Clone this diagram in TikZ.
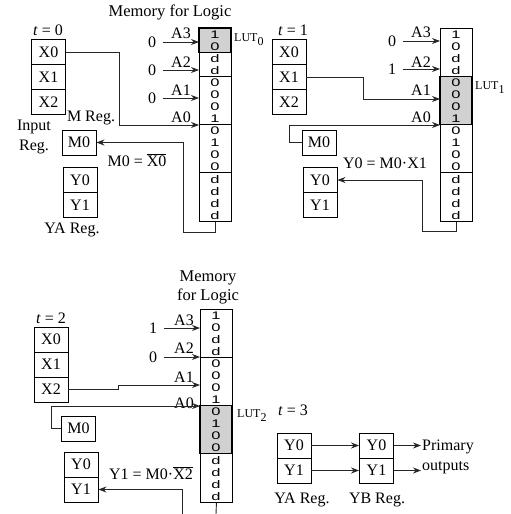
\documentclass[tikz,border=0pt]{standalone}
\usepackage{fontspec}
\setmainfont{Liberation Serif}
\newfontfamily\bitfont{Liberation Sans}
\usetikzlibrary{arrows.meta}
\tikzset{
  reg/.style={draw, line width=0.9pt, minimum width=34pt, minimum height=25pt, inner sep=0pt},
  wire/.style={line width=0.9pt, black!85},
  sig/.style={wire, -{Stealth[length=8pt,width=6pt]}},
  bit/.style={font=\bitfont\fontsize{11}{11}\selectfont, inner sep=0pt},
  lut/.style={font=\fontsize{12}{12}\selectfont, anchor=west, inner sep=0pt},
  title/.style={font=\fontsize{16.5}{19}\selectfont, align=center},
}
\newcommand{\memcol}[5]{%
  \fill[black!18] (#2,{#3+12.06*#4}) rectangle ({#2+32},{#3+12.06*(#4+#5)});
  \node[draw, line width=0.9pt, anchor=north west, minimum width=32pt, minimum height=193pt, inner sep=0pt] (#1) at (#2,#3) {};
  \foreach \g in {4,8,12}
    \draw[line width=1.2pt] (#2,{#3+12.06*\g}) -- ++(32,0);
  \draw[line width=1.2pt] (#2,{#3+12.06*#4}) rectangle ({#2+32},{#3+12.06*(#4+#5)});
  \foreach \b [count=\i from 0] in {1,0,d,d,0,0,0,1,0,1,0,0,d,d,d,d}
    \node[bit] at ({#2+16},{#3+12.06*\i+6.4}) {\scalebox{1.5}[1]{\b}};
}
\begin{document}
\begin{tikzpicture}[x=1pt, y=-1pt, font=\fontsize{16}{18}\selectfont]
\useasboundingbox (0,0) rectangle (511,514);

\node[title] (memt0) at (170,12) {Memory for Logic};
\node (t0) at (48,30) {\textit{t} = 0};
\node[reg] (x00) at (48.5,52) {X0};
\node[reg] (x01) at (48.5,77) {X1};
\node[reg] (x02) at (48.5,102) {X2};
\node[align=center, font=\fontsize{16}{20}\selectfont] (inreg0) at (34,137) {Input\\Reg.};
\node (mreg0) at (91,118) {M Reg.};
\node[reg] (m00) at (79,142.5) {M0};
\node (eq0) at (137,160) {M0 = $\overline{\mbox{X0}}$};
\node[reg] (ya00) at (80,180) {Y0};
\node[reg] (ya01) at (80,205) {Y1};
\node (yareg0) at (72,230) {YA Reg.};
\memcol{m0}{199}{28}{0}{2}
\node[lut] (lut0) at (234,40) {LUT\raisebox{-4pt}{0}};
\node (v03) at (152,42) {0};
\node (v02) at (152,70) {0};
\node (v01) at (152,98) {0};
\node (a03) at (181,33) {A3};
\node (a02) at (181,62) {A2};
\node (a01) at (181,90) {A1};
\node (a00) at (181,117) {A0};
\draw[sig, shorten <=3pt] (v03) -- (v03 -| m0.west);
\draw[sig, shorten <=3pt] (v02) -- (v02 -| m0.west);
\draw[sig, shorten <=3pt] (v01) -- (v01 -| m0.west);
\coordinate (b0) at (119,125);
\draw[sig] (x00.east) -| (b0) -- (b0 -| m0.west);
\coordinate (r0) at (183,232);
\draw[sig] (m0.south) |- (r0) |- (m00.east);

\node (t1) at (293,30) {\textit{t} = 1};
\node[reg] (x10) at (289,52) {X0};
\node[reg] (x11) at (289,77) {X1};
\node[reg] (x12) at (289,102) {X2};
\memcol{m1}{440}{28}{4}{4}
\node[lut] (lut1) at (475,88) {LUT\raisebox{-4pt}{1}};
\node (v13) at (392,41) {0};
\node (v12) at (392,69) {1};
\node (a13) at (421,32) {A3};
\node (a12) at (421,62) {A2};
\node (a11) at (421,90) {A1};
\node (a10) at (421,117) {A0};
\draw[sig, shorten <=3pt] (v13) -- (v13 -| m1.west);
\draw[sig, shorten <=3pt] (v12) -- (v12 -| m1.west);
\coordinate (b1) at (363,99);
\draw[sig] (x11.east) -| (b1) -- (b1 -| m1.west);
\node[reg] (m10) at (319,142.5) {M0};
\coordinate (c1) at (289,125);
\draw[sig] (m10.west) -| (c1) -- (c1 -| m1.west);
\node (eq1) at (385,163) {Y0 = M0·X1};
\node[reg] (ya10) at (320,180) {Y0};
\node[reg] (ya11) at (320,205) {Y1};
\coordinate (r1) at (422,231);
\draw[sig] (m1.south) |- (r1) |- (ya10.east);

\node[title] (memt2) at (208,287.5) {Memory\\for Logic};
\node (t2) at (51,318) {\textit{t} = 2};
\node[reg] (x20) at (51,339.5) {X0};
\node[reg] (x21) at (51,364.5) {X1};
\node[reg] (x22) at (51,389.5) {X2};
\memcol{m2}{200}{309}{8}{4}
\node[lut] (lut2) at (237,416) {LUT\raisebox{-4pt}{2}};
\node (v23) at (153,328) {1};
\node (v22) at (153,357) {0};
\node (a23) at (184,320) {A3};
\node (a22) at (184,348) {A2};
\node (a21) at (184,377) {A1};
\node (a20) at (184,403) {A0};
\draw[sig, shorten <=3pt] (v23) -- (v23 -| m2.west);
\draw[sig, shorten <=3pt] (v22) -- (v22 -| m2.west);
\coordinate (b2) at (118,385);
\draw[sig] (x22.east) -| (b2) -- (b2 -| m2.west);
\node[reg] (m20) at (78.5,428.5) {M0};
\coordinate (c2) at (51,406);
\draw[sig] (m20.west) -| (c2) -- (c2 -| m2.west);
\node[reg] (ya20) at (81,464.5) {Y0};
\node[reg] (ya21) at (81,489.5) {Y1};
\node (eq2) at (151,473) {Y1 = M0·$\overline{\mbox{X2}}$};
\coordinate (e2) at (216,514);
\draw[wire] (m2.south) -- (e2);
\coordinate (r2) at (182,514);
\draw[sig] (r2) |- (ya21.east);

\node (t3) at (293,410) {\textit{t} = 3};
\node[reg] (ya30) at (294,445.5) {Y0};
\node[reg] (ya31) at (294,470.5) {Y1};
\node[reg] (yb30) at (376.5,445.5) {Y0};
\node[reg] (yb31) at (376.5,470.5) {Y1};
\draw[sig] (ya30) -- (yb30);
\draw[sig] (ya31) -- (yb31);
\node[anchor=west, inner sep=1pt] (prim) at (421,447) {Primary};
\node[anchor=west, inner sep=1pt] (outp) at (421,468) {outputs};
\draw[sig] (yb30.east) -- (yb30.east -| prim.west);
\draw[sig] (yb31.east) -- (yb31.east -| outp.west);
\node (yareg3) at (302,500) {YA Reg.};
\node (ybreg3) at (377,500) {YB Reg.};
\end{tikzpicture}
\end{document}
